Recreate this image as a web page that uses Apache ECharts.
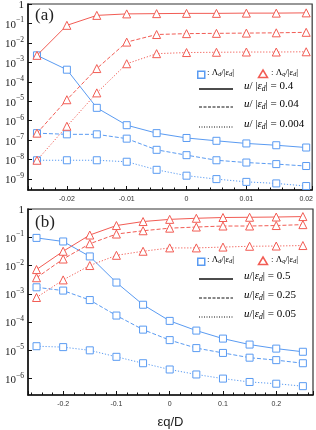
<!DOCTYPE html>
<html>
<head>
<meta charset="utf-8">
<script src="https://cdn.jsdelivr.net/npm/echarts@6/dist/echarts.min.js"></script>
<style>html,body{margin:0;padding:0;background:#fff}#c{width:316px;height:430px}</style>
</head>
<body>
<div id="c"></div>
<script>
// Panel (a)
const xA = [-0.025, -0.02, -0.015, -0.01, -0.005, 0, 0.005, 0.01, 0.015, 0.02];
const aQ_04   = [2.3e-3, 0.08, 0.26, 0.31, 0.32, 0.33, 0.33, 0.34, 0.34, 0.35];
const aQ_004  = [2.3e-7, 1.2e-5, 4.8e-4, 0.011, 0.027, 0.030, 0.031, 0.032, 0.033, 0.035];
const aQ_0004 = [9.3e-9, 5.2e-7, 2.7e-5, 8.5e-4, 2.8e-3, 3.2e-3, 3.3e-3, 3.4e-3, 3.4e-3, 3.5e-3];
const aD_04   = [2.3e-3, 4.2e-4, 4.6e-6, 5.9e-7, 2.3e-7, 1.3e-7, 9.3e-8, 6.8e-8, 5.5e-8, 4.2e-8];
const aD_004  = [2.3e-7, 2.0e-7, 2.0e-7, 1.2e-7, 3.2e-8, 1.7e-8, 9.3e-9, 7.1e-9, 5.9e-9, 4.7e-9];
const aD_0004 = [9.3e-9, 9.3e-9, 9.3e-9, 7.8e-9, 3.0e-9, 1.5e-9, 1.0e-9, 7.2e-10, 6.0e-10, 4.4e-10];
// Panel (b)
const xB = [-0.25, -0.2, -0.15, -0.1, -0.05, 0, 0.05, 0.1, 0.15, 0.2, 0.25];
const bQ_05  = [7.2e-3, 0.032, 0.12, 0.26, 0.36, 0.43, 0.47, 0.50, 0.51, 0.52, 0.54];
const bQ_025 = [3.7e-3, 0.017, 0.059, 0.13, 0.17, 0.21, 0.23, 0.25, 0.25, 0.26, 0.28];
const bQ_005 = [7.4e-4, 3.1e-3, 0.010, 0.023, 0.032, 0.042, 0.042, 0.045, 0.048, 0.049, 0.051];
const bD_05  = [0.095, 0.071, 0.021, 2.5e-3, 4.1e-4, 1.1e-4, 5.0e-5, 2.6e-5, 1.6e-5, 1.15e-5, 8.9e-6];
const bD_025 = [1.7e-3, 1.3e-3, 6.0e-4, 1.7e-4, 5.4e-5, 2.3e-5, 1.2e-5, 8.1e-6, 5.5e-6, 4.5e-6, 3.5e-6];
const bD_005 = [1.4e-5, 1.3e-5, 1.0e-5, 5.9e-6, 3.5e-6, 2.1e-6, 1.4e-6, 1.0e-6, 7.6e-7, 6.6e-7, 5.4e-7];

const legendA = ['0.4', '0.04', '0.004'];
const legendB = ['0.5', '0.25', '0.05'];

const RED = '#f25c54', BLUE = '#5a9bf2';
const SERIF = '"Liberation Serif","DejaVu Serif",serif';
const SANS = '"Liberation Sans","DejaVu Sans",sans-serif';
const styles = ['solid', [4, 2], [1.2, 1.8]];

function pairs(xs, ys) { return xs.map((x, i) => [x, ys[i]]); }
function ser(xs, ys, idx, color, sym, dash) {
  return {
    type: 'line', xAxisIndex: idx, yAxisIndex: idx, data: pairs(xs, ys),
    symbol: sym, symbolSize: sym === 'rect' ? 7 : 8,
    lineStyle: { color: color, width: 1, type: dash },
    itemStyle: { color: '#fff', borderColor: color, borderWidth: 1 },
    z: sym === 'rect' ? 3 : 4, animation: false
  };
}
function yLab(v) {
  if (Math.abs(v - 1) < 1e-9) return '{b|1}';
  const e = Math.round(Math.log10(v));
  return '{b|10}{s|' + (e < 0 ? '\u2212' + (-e) : e) + '}';
}
const yRich = {
  b: { fontFamily: SERIF, fontSize: 11, color: '#222', lineHeight: 14, verticalAlign: 'bottom' },
  s: { fontFamily: SERIF, fontSize: 7.5, color: '#222', lineHeight: 14, verticalAlign: 'top' }
};
function yAx(idx, min) {
  return {
    type: 'log', logBase: 10, gridIndex: idx, min: min, max: 1, splitNumber: 10,
    axisLine: { show: true, onZero: false, lineStyle: { color: '#111', width: 1.5 } },
    axisTick: { show: true, inside: true, length: 4, lineStyle: { color: '#111' } },
    splitLine: { show: false },
    axisLabel: { showMinLabel: false, formatter: yLab, rich: yRich, margin: 4 }
  };
}
function xAx(idx, min, max, gapName) {
  const o = {
    type: 'value', gridIndex: idx, min: min, max: max, splitNumber: 5,
    axisLine: { show: true, onZero: false, lineStyle: { color: '#111', width: 1.5 } },
    axisTick: { show: true, inside: true, length: 4, lineStyle: { color: '#111' } },
    minorTick: { show: true, splitNumber: 5, length: 2.5, lineStyle: { color: '#111' } },
    splitLine: { show: false },
    axisLabel: { showMinLabel: false, showMaxLabel: false, fontFamily: SANS, fontSize: 7, color: '#333', margin: 6,
      formatter: v => String(Math.round(v * 1000) / 1000) }
  };
  if (gapName) {
    o.name = 'εq/D'; o.nameLocation = 'middle'; o.nameGap = 21;
    o.nameTextStyle = { fontFamily: SANS, fontSize: 13, color: '#222' };
  }
  return o;
}

const series = [];
[aQ_04, aQ_004, aQ_0004].forEach((d, i) => series.push(ser(xA, d, 0, RED, 'triangle', styles[i])));
[aD_04, aD_004, aD_0004].forEach((d, i) => series.push(ser(xA, d, 0, BLUE, 'rect', styles[i])));
[bQ_05, bQ_025, bQ_005].forEach((d, i) => series.push(ser(xB, d, 1, RED, 'triangle', styles[i])));
[bD_05, bD_025, bD_005].forEach((d, i) => series.push(ser(xB, d, 1, BLUE, 'rect', styles[i])));

const legRich = {
  n: { fontFamily: SERIF, fontSize: 9, color: '#222', fontStyle: 'italic' },
  r: { fontFamily: SERIF, fontSize: 9, color: '#222' },
  sub: { fontFamily: SERIF, fontSize: 6, color: '#222', fontStyle: 'italic', padding: [4, 0, 0, 0] },
  N: { fontFamily: SERIF, fontSize: 11, color: '#222', fontStyle: 'italic' },
  R: { fontFamily: SERIF, fontSize: 11, color: '#222' },
  SUB: { fontFamily: SERIF, fontSize: 7.5, color: '#222', fontStyle: 'italic', padding: [5, 0, 0, 0] }
};
function legendBlock(yRow1, rows, vals, sep) {
  const g = [];
  g.push({ type: 'rect', left: 197, top: yRow1 - 3.5, shape: { width: 7, height: 7 },
    style: { fill: '#fff', stroke: BLUE, lineWidth: 1.5 } });
  g.push({ type: 'text', left: 207, top: yRow1 - 6, style: { text: '{r|: Λ}{sub|d}{r|/|}{n|ε}{sub|d}{r||}', rich: legRich } });
  g.push({ type: 'polygon', shape: { points: [[263, yRow1 - 4], [267.5, yRow1 + 3.5], [258.5, yRow1 + 3.5]] },
    style: { fill: '#fff', stroke: RED, lineWidth: 1.5 } });
  g.push({ type: 'text', left: 271, top: yRow1 - 6, style: { text: '{r|: Λ}{sub|q}{r|/|}{n|ε}{sub|d}{r||}', rich: legRich } });
  rows.forEach((y, i) => {
    g.push({ type: 'line', shape: { x1: 199, y1: y, x2: 233, y2: y },
      style: { stroke: '#111', lineWidth: i === 0 ? 1.3 : 1, lineDash: i === 0 ? null : (i === 1 ? [3, 1.5] : [1, 1.5]) } });
    g.push({ type: 'text', left: 244, top: y - 8,
      style: { text: '{N|u}{R|/' + sep + '|}{N|ε}{SUB|d}{R|| = ' + vals[i] + '}', rich: legRich } });
  });
  return g;
}

const graphic = [
  { type: 'text', left: 35, top: 7, style: { text: '(a)', font: '17px ' + SERIF, fill: '#222' } },
  { type: 'text', left: 35, top: 214, style: { text: '(b)', font: '17px ' + SERIF, fill: '#222' } }
].concat(legendBlock(74, [89, 107, 127], legendA, ' '), legendBlock(261, [279, 298, 317], legendB, ''));

const chart = echarts.init(document.getElementById('c'), null, { renderer: 'canvas' });
chart.setOption({
  animation: false,
  backgroundColor: '#fff',
  grid: [
    { left: 28, top: 4, width: 285, height: 186, show: true, borderColor: '#333', borderWidth: 1.2, backgroundColor: 'transparent' },
    { left: 28, top: 209, width: 285, height: 188, show: true, borderColor: '#333', borderWidth: 1.2, backgroundColor: 'transparent' }
  ],
  xAxis: [xAx(0, -0.0265, 0.021, false), xAx(1, -0.266, 0.269, true)],
  yAxis: [yAx(0, Math.pow(10, -9.56)), yAx(1, Math.pow(10, -6.58))],
  series: series,
  graphic: graphic
});
</script>
</body>
</html>
